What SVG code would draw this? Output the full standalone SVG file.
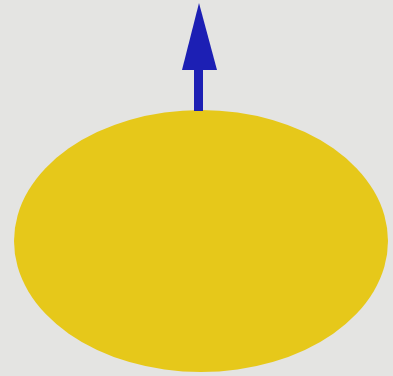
<svg xmlns="http://www.w3.org/2000/svg" width="393" height="376" viewBox="0 0 393 376">
<style>
.body{fill:#e6c81a}
.arrow{fill:#1c1fb4}
</style>
<rect width="393" height="376" fill="#e4e4e2"/>
<g id="ellipse"><ellipse class="body" cx="201" cy="241" rx="187" ry="131"/></g>
<g id="connectors">
<rect class="arrow" x="194" y="68" width="9" height="43"/>
<polygon class="arrow" points="199,3 217,70 182,70"/>
</g>
</svg>
